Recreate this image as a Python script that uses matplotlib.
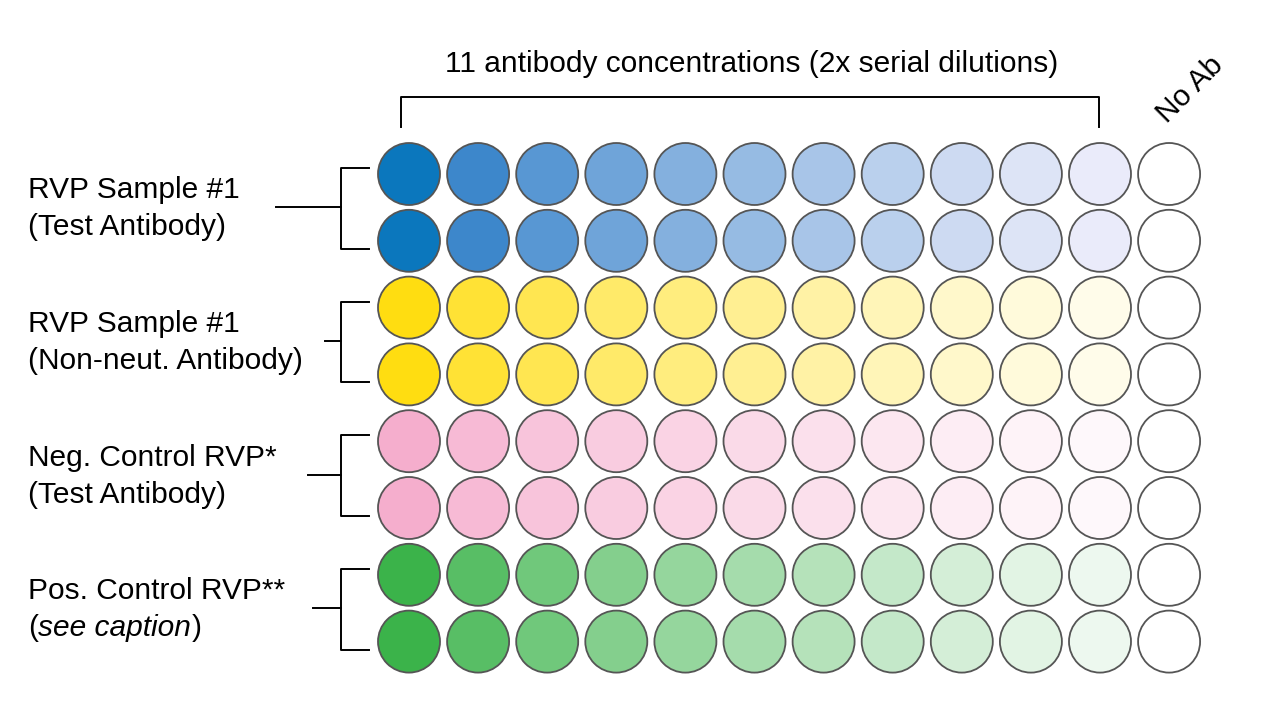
import matplotlib
matplotlib.use("Agg")
import matplotlib.pyplot as plt
from matplotlib.patches import Circle
import matplotlib.colors as mc
import numpy as np

plt.rcParams["font.family"] = "Liberation Sans"

group_line1 = ["RVP Sample #1", "RVP Sample #1", "Neg. Control RVP*", "Pos. Control RVP**"]
group_line2 = ["(Test Antibody)", "(Non-neut. Antibody)", "(Test Antibody)", None]
base_colors = ["#0b77bd", "#ffdd11", "#f5aecd", "#3bb34a"]
tint_levels = [1.0, 0.85, 0.73, 0.63, 0.54, 0.46, 0.38, 0.30, 0.22, 0.15, 0.09, 0.0]
title = "11 antibody concentrations (2x serial dilutions)"
noab = "No Ab"

FS = 21.5
fig = plt.figure(figsize=(12.82, 7.14), dpi=100)
ax = fig.add_axes([0, 0, 1, 1])
ax.set_xlim(0, 1282); ax.set_ylim(714, 0); ax.axis("off")

x0, dx, r = 409, 69.1, 31
y0, dy = 174, 66.8
for g, base in enumerate(base_colors):
    b = np.array(mc.to_rgb(base))
    for k in range(2):
        y = y0 + (2 * g + k) * dy
        for c, t in enumerate(tint_levels):
            col = 1 - t * (1 - b)
            if g == 0 and 0 < t < 1:
                col = col * np.array([1.0, 0.97, 1.0]) + np.array([0.06 * t, 0, 0.02 * t])
                col = np.clip(col, 0, 1)
            ax.add_patch(Circle((x0 + c * dx, y), r, facecolor=col, edgecolor="#555555", lw=1.3))
    yc = y0 + (2 * g + 0.5) * dy
    top, bot = y0 + 2 * g * dy - 6, y0 + (2 * g + 1) * dy + 8
    ax.plot([369, 341, 341, 369], [top, top, bot, bot], color="black", lw=1.4)
    tick_start = [276, 325, 308, 313][g]
    ax.plot([tick_start, 341], [yc, yc], color="black", lw=1.4)
    ax.text(28, yc - 17, group_line1[g], fontsize=FS, va="center", ha="left")
    if group_line2[g]:
        ax.text(28, yc + 20, group_line2[g], fontsize=FS, va="center", ha="left")
    else:
        fig.canvas.draw()
        rend = fig.canvas.get_renderer()
        p1 = ax.text(28, yc + 20, "(", fontsize=FS, va="center", ha="left")
        w1 = p1.get_window_extent(rend).width
        t1 = ax.text(28 + w1, yc + 20, "see caption", fontsize=FS, va="center", ha="left", style="italic")
        w2 = t1.get_window_extent(rend).width
        ax.text(28 + w1 + w2 + 1, yc + 20, ")", fontsize=FS, va="center", ha="left")

ax.plot([401, 401, 1099, 1099], [127, 97, 97, 127], color="black", lw=1.4)
ax.text(752, 64, title, fontsize=FS, ha="center", va="center")
ax.text(1190, 90, noab, fontsize=FS, ha="center", va="center", rotation=45)

fig.savefig("out.png", dpi=100)
